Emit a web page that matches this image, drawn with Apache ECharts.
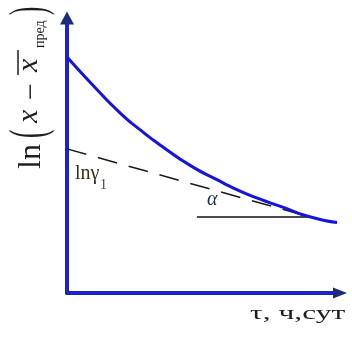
<!DOCTYPE html>
<html>
<head>
<meta charset="utf-8">
<script src="https://cdn.jsdelivr.net/npm/echarts@6/dist/echarts.min.js"></script>
<style>
  html, body { margin: 0; padding: 0; background: #fff; }
  #chart { width: 352px; height: 339px; }
</style>
</head>
<body>
<div id="chart"></div>
<script>
// Relaxation curve ln(x − x̄пред) versus time τ (arbitrary units 0–100)
var curveT  = [0, 10, 19.4, 26.7, 35, 45.1, 54.9, 62, 70, 79, 87.9, 98.9];
var curveLn = [85.8, 75.0, 65.5, 59.4, 53.2, 46.4, 41.2, 37.7, 34.4, 31.2, 28.0, 25.6];

// Tangent to the final linear part; its intercept is ln γ1
var tangentT  = [0, 88.5];
var tangentLn = [52.4, 27.8];

// Horizontal reference line marking the slope angle α
var baseT  = [47.6, 88.5];
var baseLn = [27.6, 27.6];

// Axis range
var tMin = 0, tMax = 100, lnMin = 0, lnMax = 100;

function pairs(xs, ys) {
  return xs.map(function (x, i) { return [x, ys[i]]; });
}

var serif = '"Liberation Serif", "Times New Roman", serif';

function axisBase(extra) {
  var a = {
    type: 'value',
    axisTick: { show: false },
    axisLabel: { show: false },
    splitLine: { show: false }
  };
  for (var k in extra) a[k] = extra[k];
  return a;
}

var chart = echarts.init(document.getElementById('chart'), null, { renderer: 'canvas' });

chart.setOption({
  animation: false,
  backgroundColor: '#ffffff',
  grid: { left: 67, top: 18, right: 12, bottom: 46 },
  xAxis: [
    axisBase({ min: tMin, max: tMax, position: 'bottom',
      axisLine: { show: true, onZero: false, symbol: ['none', 'triangle'], symbolSize: [11, 14],
        lineStyle: { color: '#1b2c78', width: 4 } } }),
    axisBase({ min: tMin, max: tMax, position: 'bottom',
      axisLine: { show: true, onZero: false,
        lineStyle: { color: '#1e1ef2', width: 2 } } })
  ],
  yAxis: [
    axisBase({ min: lnMin, max: lnMax, position: 'left',
      axisLine: { show: true, onZero: false, symbol: ['none', 'triangle'], symbolSize: [14, 13],
        lineStyle: { color: '#1b2c78', width: 4 } } }),
    axisBase({ min: lnMin, max: lnMax, position: 'left',
      axisLine: { show: true, onZero: false,
        lineStyle: { color: '#1e1ef2', width: 2 } } })
  ],
  series: [
    {
      type: 'line', data: pairs(tangentT, tangentLn), showSymbol: false,
      lineStyle: { color: '#1a1a1a', width: 1.5, type: [20, 12] }, z: 2
    },
    {
      type: 'line', data: pairs(baseT, baseLn), showSymbol: false,
      lineStyle: { color: '#111111', width: 1.5 }, z: 2
    },
    {
      type: 'line', data: pairs(curveT, curveLn), smooth: 0.6, showSymbol: false,
      lineStyle: { color: '#1414dc', width: 3 }, z: 3
    }
  ],
  graphic: [
    {
      // vertical axis title, reading bottom to top
      type: 'group', x: 42, y: 172, rotation: Math.PI / 2,
      children: [
        { type: 'text', x: 3, y: -10, style: { text: 'ln', font: '32px ' + serif, fill: '#1e1e1e', verticalAlign: 'middle' } },
        { type: 'text', x: 34, y: -11, scaleX: 0.5, style: { text: '(', font: '50px ' + serif, fill: '#1e1e1e', verticalAlign: 'middle' } },
        { type: 'text', x: 49, y: -13, style: { text: 'x', font: 'italic 30px ' + serif, fill: '#1e1e1e', verticalAlign: 'middle' } },
        { type: 'text', x: 72, y: -10, style: { text: '−', font: '30px ' + serif, fill: '#1e1e1e', verticalAlign: 'middle' } },
        { type: 'text', x: 100, y: -13, style: { text: 'x', font: 'italic 30px ' + serif, fill: '#1e1e1e', verticalAlign: 'middle' } },
        { type: 'line', shape: { x1: 97, y1: -24, x2: 122, y2: -24 }, style: { stroke: '#1e1e1e', lineWidth: 1.5 } },
        { type: 'text', x: 124, y: -2, style: { text: 'пред', font: '14px ' + serif, fill: '#1e1e1e', verticalAlign: 'middle' } },
        { type: 'text', x: 157, y: -11, scaleX: 0.5, style: { text: ')', font: '50px ' + serif, fill: '#1e1e1e', verticalAlign: 'middle' } }
      ]
    },
    { type: 'text', x: 75, y: 174, style: { text: 'lnγ', font: '20px ' + serif, fill: '#3b2e14', verticalAlign: 'middle' } },
    { type: 'text', x: 100, y: 185, style: { text: '1', font: '14px ' + serif, fill: '#34466a', verticalAlign: 'middle' } },
    { type: 'text', x: 207, y: 200, style: { text: 'α', font: 'italic 20px ' + serif, fill: '#1f2c55', verticalAlign: 'middle' } },
    { type: 'text', x: 250, y: 314, scaleX: 1.75, style: { text: 'τ, ч,сут', font: '18px ' + serif, fill: '#1e1e1e', verticalAlign: 'middle' } }
  ]
});
</script>
</body>
</html>
